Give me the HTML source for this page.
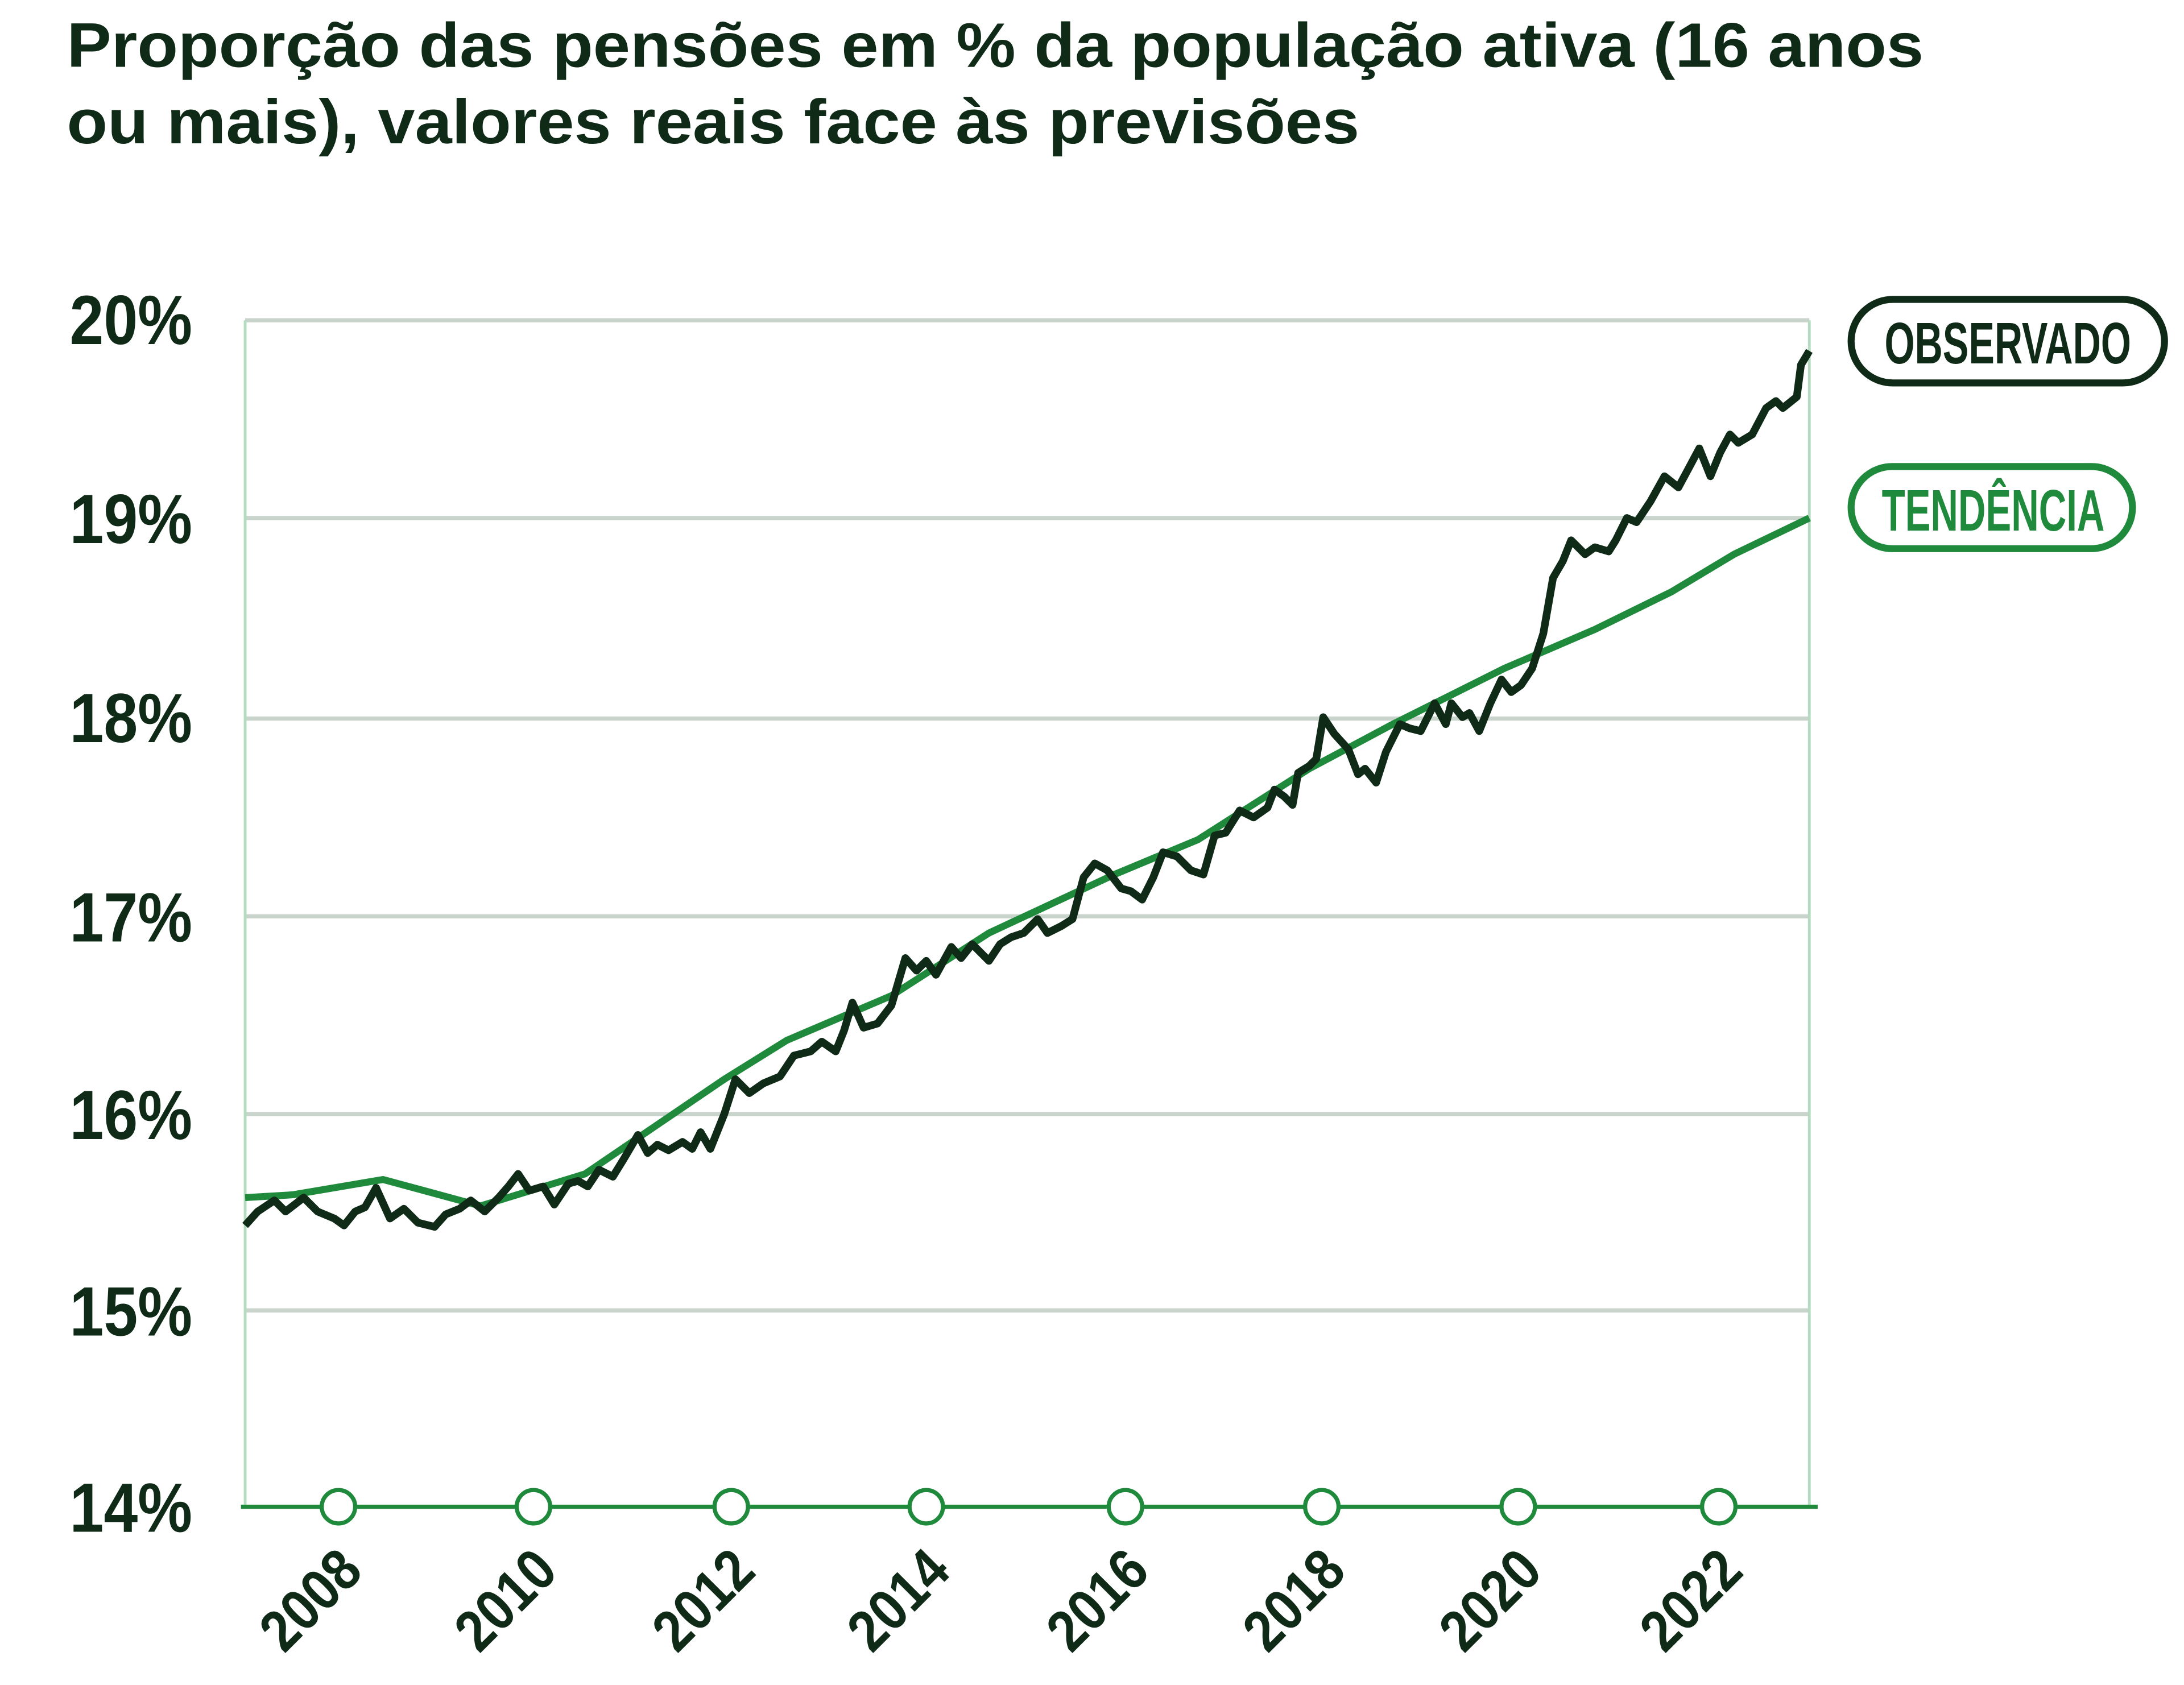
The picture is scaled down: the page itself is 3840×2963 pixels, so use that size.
<!DOCTYPE html>
<html><head><meta charset="utf-8"><style>
html,body{margin:0;padding:0;background:#fff;width:3840px;height:2963px;overflow:hidden}
svg{display:block}
.t{font-family:"Liberation Sans",sans-serif;font-weight:bold;fill:#0f2a16}
.c{font-family:"Liberation Sans Narrow","Liberation Sans",sans-serif;font-weight:bold}
</style></head><body>
<svg width="3840" height="2963" viewBox="0 0 1568 1210" preserveAspectRatio="none" xmlns="http://www.w3.org/2000/svg">
<text class="t" x="48" y="48" font-size="45" textLength="1333" lengthAdjust="spacingAndGlyphs">Proporção das pensões em % da população ativa (16 anos</text>
<text class="t" x="48" y="103" font-size="45" textLength="928" lengthAdjust="spacingAndGlyphs">ou mais), valores reais face às previsões</text>
<g stroke="#c9d4cd" stroke-width="3">
<line x1="176" y1="230" x2="1299" y2="230"/><line x1="176" y1="372" x2="1299" y2="372"/>
<line x1="176" y1="516" x2="1299" y2="516"/><line x1="176" y1="658" x2="1299" y2="658"/>
<line x1="176" y1="800" x2="1299" y2="800"/><line x1="176" y1="941" x2="1299" y2="941"/>
</g>
<line x1="176" y1="230" x2="176" y2="1082" stroke="#b5dcc0" stroke-width="2"/>
<line x1="1299" y1="230" x2="1299" y2="1082" stroke="#b5dcc0" stroke-width="2"/>
<g class="c" fill="#0f2a16" font-size="50">
<text x="50" y="247" textLength="88" lengthAdjust="spacingAndGlyphs">20%</text>
<text x="50" y="390" textLength="88" lengthAdjust="spacingAndGlyphs">19%</text>
<text x="50" y="533" textLength="88" lengthAdjust="spacingAndGlyphs">18%</text>
<text x="50" y="676" textLength="88" lengthAdjust="spacingAndGlyphs">17%</text>
<text x="50" y="818" textLength="88" lengthAdjust="spacingAndGlyphs">16%</text>
<text x="50" y="959" textLength="88" lengthAdjust="spacingAndGlyphs">15%</text>
<text x="50" y="1100" textLength="88" lengthAdjust="spacingAndGlyphs">14%</text>
</g>
<polyline fill="none" stroke="#1f8a3c" stroke-width="5" stroke-linejoin="round" points="176,860 210,858 275,847 345,866 420,843 520,775 565,747 640,715 710,670 800,628 860,603 940,552 1000,520 1080,480 1145,452 1200,425 1245,398 1299,372"/>
<polyline fill="none" stroke="#0f2a16" stroke-width="5.5" stroke-linejoin="round" points="176,880 185,870 197,862 205,870 218,860 228,870 240,875 247,880 255,870 262,867 270,853 280,875 290,868 300,878 312,881 320,872 330,868 338,862 348,870 358,860 365,852 372,843 380,855 390,852 398,865 408,850 415,848 422,852 430,840 440,845 448,832 458,815 465,828 472,822 480,826 490,820 497,825 503,813 510,825 520,800 528,775 538,785 548,778 560,773 570,758 582,755 590,748 600,755 606,740 612,720 620,738 630,735 640,722 650,688 658,697 665,690 672,700 683,680 690,688 698,678 710,690 718,678 726,673 735,670 745,660 752,670 762,665 770,660 778,630 786,620 795,625 805,638 812,640 820,646 828,630 835,612 845,615 855,625 864,628 872,600 880,598 890,582 900,587 910,580 915,567 922,572 928,578 932,555 940,550 945,545 950,515 958,527 968,538 975,556 980,552 988,562 995,540 1005,520 1012,523 1020,525 1030,505 1038,520 1042,505 1050,515 1055,512 1062,525 1070,505 1078,488 1085,497 1092,492 1100,480 1108,455 1115,415 1122,403 1128,388 1138,398 1145,393 1155,396 1160,388 1168,372 1175,375 1185,360 1195,342 1205,350 1212,337 1220,322 1228,342 1235,325 1242,312 1248,318 1258,312 1268,293 1275,288 1280,293 1290,285 1293,262 1299,252"/>
<line x1="173" y1="1082" x2="1305" y2="1082" stroke="#1f8a3c" stroke-width="3"/>
<g fill="#fff" stroke="#1f8a3c" stroke-width="3">
<circle cx="243" cy="1082" r="12"/><circle cx="383" cy="1082" r="12"/><circle cx="525" cy="1082" r="12"/><circle cx="665" cy="1082" r="12"/>
<circle cx="808" cy="1082" r="12"/><circle cx="949" cy="1082" r="12"/><circle cx="1090" cy="1082" r="12"/><circle cx="1234" cy="1082" r="12"/>
</g>
<g class="c" fill="#0f2a16" font-size="42" text-anchor="end">
<text transform="translate(262,1130) rotate(-45)" textLength="82" lengthAdjust="spacingAndGlyphs">2008</text>
<text transform="translate(402,1130) rotate(-45)" textLength="82" lengthAdjust="spacingAndGlyphs">2010</text>
<text transform="translate(544,1130) rotate(-45)" textLength="82" lengthAdjust="spacingAndGlyphs">2012</text>
<text transform="translate(684,1130) rotate(-45)" textLength="82" lengthAdjust="spacingAndGlyphs">2014</text>
<text transform="translate(827,1130) rotate(-45)" textLength="82" lengthAdjust="spacingAndGlyphs">2016</text>
<text transform="translate(968,1130) rotate(-45)" textLength="82" lengthAdjust="spacingAndGlyphs">2018</text>
<text transform="translate(1109,1130) rotate(-45)" textLength="82" lengthAdjust="spacingAndGlyphs">2020</text>
<text transform="translate(1253,1130) rotate(-45)" textLength="82" lengthAdjust="spacingAndGlyphs">2022</text>
</g>
<rect x="1329" y="215" width="225" height="60" rx="30" fill="#fff" stroke="#0f2a16" stroke-width="5"/>
<text class="c" x="1353" y="261" font-size="42" fill="#0f2a16" textLength="177" lengthAdjust="spacingAndGlyphs">OBSERVADO</text>
<rect x="1329" y="335" width="202" height="59" rx="29.5" fill="#fff" stroke="#1f8a3c" stroke-width="5"/>
<text class="c" x="1351" y="381" font-size="42" fill="#1f8a3c" textLength="160" lengthAdjust="spacingAndGlyphs">TENDÊNCIA</text>
</svg>
</body></html>
